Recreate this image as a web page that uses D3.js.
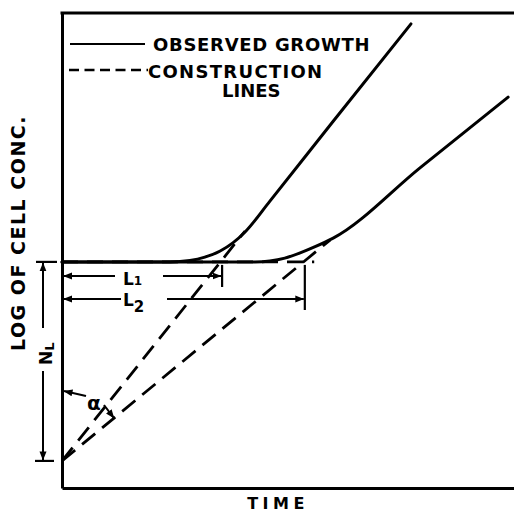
<!DOCTYPE html>
<html>
<head>
<meta charset="utf-8">
<script src="https://cdn.jsdelivr.net/npm/d3@7/dist/d3.min.js"></script>
<style>
  html, body { margin: 0; padding: 0; background: #fff; }
  svg { display: block; }
  text { font-family: "DejaVu Sans", "Liberation Sans", Arial, sans-serif; font-weight: bold; fill: #000; }
</style>
</head>
<body>
<svg id="chart" width="514" height="514"></svg>
<script>
// ---- data (arbitrary units: time 0..100, log cell conc 0..100) ----
const growth1 = [[0,47.6],[23.9,47.6],[28.3,47.9],[31.6,48.6],[35.0,49.9],[37.8,51.6],[40.5,53.9],[46.0,60.4],[60.0,77.2],[77.2,97.7]];
const growth2 = [[0,47.6],[42.7,47.6],[46.0,47.8],[49.3,48.4],[52.7,49.5],[56.0,50.8],[60.0,52.6],[79.2,67.4],[98.7,82.3]];
const construction1 = [[0,5.7],[40.5,54.1]];
const construction2 = [[0,5.7],[59.3,52.2]];
const lagLevel = 47.6;
const interceptLevel = 5.7;
const lagTimes = [35.2, 53.5];
const lagLabels = ["1", "2"];
const legendLabels = ["OBSERVED GROWTH", "CONSTRUCTION", "LINES"];
const xLabel = "TIME";
const yLabel = "LOG OF CELL CONC.";

// ---- layout ----
const svg = d3.select("#chart");
const mLeft = 62, mRight = 514, mTop = 13, mBottom = 488;
const x = d3.scaleLinear([0, 100], [mLeft, mRight]);
const y = d3.scaleLinear([0, 100], [mBottom, mTop]);

const defs = svg.append("defs");
defs.append("marker").attr("id", "arr")
  .attr("viewBox", "0 -4 9 8").attr("refX", 8.5).attr("refY", 0)
  .attr("markerUnits", "userSpaceOnUse").attr("markerWidth", 9).attr("markerHeight", 8)
  .attr("orient", "auto")
  .append("path").attr("d", "M0,-3.5L9,0L0,3.5Z").attr("fill", "#000");

// frame / axes
svg.append("g").attr("transform", `translate(0,${mBottom})`)
  .call(d3.axisBottom(x).tickValues([]).tickSizeOuter(0))
  .select(".domain").attr("stroke-width", 3);
svg.append("g").attr("transform", `translate(${mLeft},0)`)
  .call(d3.axisLeft(y).tickValues([]).tickSizeOuter(0))
  .select(".domain").attr("stroke-width", 3);
svg.append("line").attr("x1", mLeft - 1.5).attr("x2", mRight).attr("y1", mTop).attr("y2", mTop)
  .attr("stroke", "#000").attr("stroke-width", 3);

const line = d3.line().x(d => x(d[0])).y(d => y(d[1]));
const curve = d3.line().x(d => x(d[0])).y(d => y(d[1])).curve(d3.curveMonotoneX);

// horizontal construction extension of lag level
svg.append("line").attr("x1", x(0)).attr("x2", x(55.8)).attr("y1", y(lagLevel)).attr("y2", y(lagLevel))
  .attr("stroke", "#000").attr("stroke-width", 2.6).attr("stroke-dasharray", "16,9");

// construction lines
[construction1, construction2].forEach(d => {
  svg.append("path").attr("d", line(d)).attr("fill", "none")
    .attr("stroke", "#000").attr("stroke-width", 2.8).attr("stroke-dasharray", "17,9");
});

// observed growth curves
[growth1, growth2].forEach(d => {
  svg.append("path").attr("d", curve(d)).attr("fill", "none")
    .attr("stroke", "#000").attr("stroke-width", 3).attr("stroke-linecap", "round");
});

// ---- legend ----
svg.append("line").attr("x1", 70).attr("x2", 145).attr("y1", 44).attr("y2", 44)
  .attr("stroke", "#000").attr("stroke-width", 2.2);
svg.append("text").attr("x", 153).attr("y", 50.5).attr("font-size", 18)
  .attr("letter-spacing", 0.7).text(legendLabels[0]);
svg.append("line").attr("x1", 69).attr("x2", 148).attr("y1", 70).attr("y2", 70)
  .attr("stroke", "#000").attr("stroke-width", 2.6).attr("stroke-dasharray", "10,5.5");
svg.append("text").attr("x", 148).attr("y", 77.5).attr("font-size", 18)
  .attr("letter-spacing", 1.3).text(legendLabels[1]);
svg.append("text").attr("x", 222).attr("y", 97).attr("font-size", 18)
  .attr("letter-spacing", 0).text(legendLabels[2]);

// ---- axis labels ----
svg.append("text").attr("x", 278).attr("y", 509)
  .attr("text-anchor", "middle").attr("font-size", 16).attr("letter-spacing", 4.5).text(xLabel);
svg.append("text").attr("transform", "translate(25,233) rotate(-90)")
  .attr("text-anchor", "middle").attr("font-size", 19).attr("letter-spacing", 1.5)
  .text(yLabel);

// ---- lag annotations L1, L2 ----
const rowY = [276, 299];
const gapStart = [115, 121];
const gapEnd = [163, 167];
lagTimes.forEach((t, i) => {
  const yy = rowY[i];
  const xe = x(t);
  svg.append("line").attr("x1", gapStart[i]).attr("x2", mLeft + 1.5).attr("y1", yy).attr("y2", yy)
    .attr("stroke", "#000").attr("stroke-width", 2).attr("marker-end", "url(#arr)");
  svg.append("line").attr("x1", gapEnd[i]).attr("x2", xe).attr("y1", yy).attr("y2", yy)
    .attr("stroke", "#000").attr("stroke-width", 2).attr("marker-end", "url(#arr)");
  svg.append("line").attr("x1", xe + 1).attr("x2", xe + 1).attr("y1", y(lagLevel) + 3).attr("y2", yy + 11)
    .attr("stroke", "#000").attr("stroke-width", 2.2);
  const tx = svg.append("text").attr("x", 123).attr("y", yy + (i === 0 ? 8.5 : 6.5)).attr("font-size", 17);
  tx.append("tspan").text("L");
  tx.append("tspan").attr("font-size", i === 0 ? 12 : 15).attr("dy", i === 0 ? 0 : 6).attr("dx", 0).text(lagLabels[i]);
});

// ---- N_L annotation ----
const nx = 43;
const yTop = y(lagLevel), yBot = y(interceptLevel);
svg.append("line").attr("x1", 36).attr("x2", 57).attr("y1", yTop).attr("y2", yTop).attr("stroke", "#000").attr("stroke-width", 2.2);
svg.append("line").attr("x1", 35).attr("x2", 54).attr("y1", yBot).attr("y2", yBot).attr("stroke", "#000").attr("stroke-width", 2.2);
svg.append("line").attr("x1", nx).attr("x2", nx).attr("y1", 328).attr("y2", yTop + 1)
  .attr("stroke", "#000").attr("stroke-width", 2).attr("marker-end", "url(#arr)");
svg.append("line").attr("x1", nx).attr("x2", nx).attr("y1", 371).attr("y2", yBot - 1)
  .attr("stroke", "#000").attr("stroke-width", 2).attr("marker-end", "url(#arr)");
const nl = svg.append("text").attr("transform", "translate(52,365) rotate(-90)").attr("font-size", 17);
nl.append("tspan").text("N");
nl.append("tspan").attr("font-size", 13).attr("dy", 2).text("L");

// ---- alpha annotation ----
svg.append("text").attr("x", 87).attr("y", 410).attr("font-size", 20).text("α");
svg.append("line").attr("x1", 86).attr("x2", mLeft + 2).attr("y1", 396).attr("y2", 391)
  .attr("stroke", "#000").attr("stroke-width", 2).attr("marker-end", "url(#arr)");
const aT = 11.5;
const c2 = construction2;
const aV = c2[0][1] + (c2[1][1] - c2[0][1]) * aT / c2[1][0];
svg.append("line").attr("x1", 104).attr("x2", x(aT)).attr("y1", 405).attr("y2", y(aV))
  .attr("stroke", "#000").attr("stroke-width", 2).attr("marker-end", "url(#arr)");
</script>
</body>
</html>
